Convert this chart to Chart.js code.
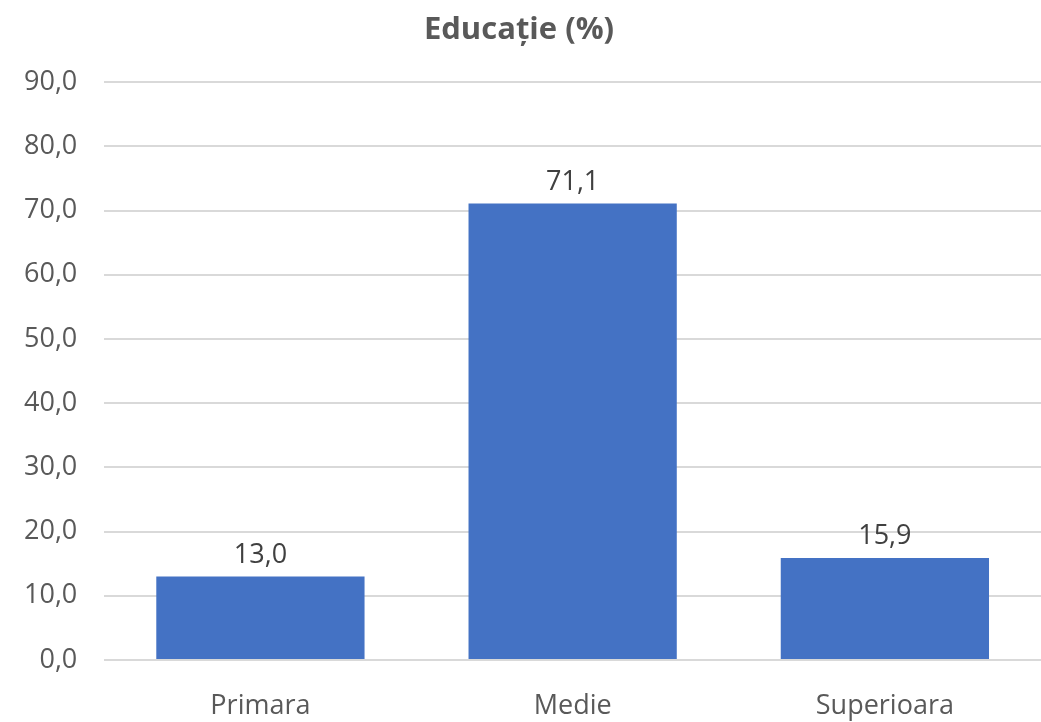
<!DOCTYPE html>
<html>
<head>
<meta charset="utf-8">
<script src="https://cdn.jsdelivr.net/npm/chart.js@4"></script>
<style>
  html, body { margin: 0; padding: 0; background: #fff; }
  #wrap { width: 1041px; height: 722px; }
</style>
</head>
<body>
<div id="wrap"><canvas id="chart" width="1041" height="722"></canvas></div>
<script>
var categories = ["Primara", "Medie", "Superioara"];
var values = [13.0, 71.1, 15.9];
var yTicks = [0, 10, 20, 30, 40, 50, 60, 70, 80, 90];

function fmt(v) {
  return v.toFixed(1).replace(".", ",");
}

// labels above bars (no datalabels plugin available offline)
var barLabels = {
  id: "barLabels",
  afterDatasetsDraw: function (chart) {
    var ctx = chart.ctx;
    var meta = chart.getDatasetMeta(0);
    ctx.save();
    ctx.font = "27px 'Open Sans', sans-serif";
    ctx.fillStyle = "#404040";
    ctx.textAlign = "center";
    ctx.textBaseline = "bottom";
    meta.data.forEach(function (bar, i) {
      ctx.fillText(fmt(values[i]), bar.x, bar.y - 8);
    });
    ctx.restore();
  },
};

var ctx = document.getElementById("chart").getContext("2d");
window.chart = new Chart(ctx, {
  type: "bar",
  data: {
    labels: categories,
    datasets: [
      {
        data: values,
        backgroundColor: "#4472c4",
        borderWidth: 0,
        barPercentage: 0.667,
        categoryPercentage: 1,
      },
    ],
  },
  options: {
    responsive: false,
    animation: false,
    layout: {
      padding: { top: 8, right: 0, bottom: 0, left: -3 },
    },
    plugins: {
      legend: { display: false },
      tooltip: { enabled: false },
      title: {
        display: true,
        text: "Educație (%)",
        color: "#595959",
        font: { family: "'Open Sans', sans-serif", size: 31, weight: "bold" },
        padding: { top: 4, bottom: 33 },
      },
    },
    scales: {
      x: {
        grid: { display: false },
        border: { display: false },
        afterFit: function (axis) {
          axis.height = 62;
        },
        ticks: {
          color: "#595959",
          font: { family: "'Open Sans', sans-serif", size: 27 },
          padding: 22,
        },
      },
      y: {
        min: 0,
        max: 90,
        afterBuildTicks: function (axis) {
          axis.ticks = yTicks.map(function (v) { return { value: v }; });
        },
        grid: { color: "#d9d9d9", lineWidth: 2, drawTicks: false },
        border: { display: false },
        ticks: {
          color: "#595959",
          font: { family: "'Open Sans', sans-serif", size: 27 },
          padding: 27,
          callback: function (value) { return fmt(value); },
        },
      },
    },
  },
  plugins: [barLabels],
});
</script>
</body>
</html>
